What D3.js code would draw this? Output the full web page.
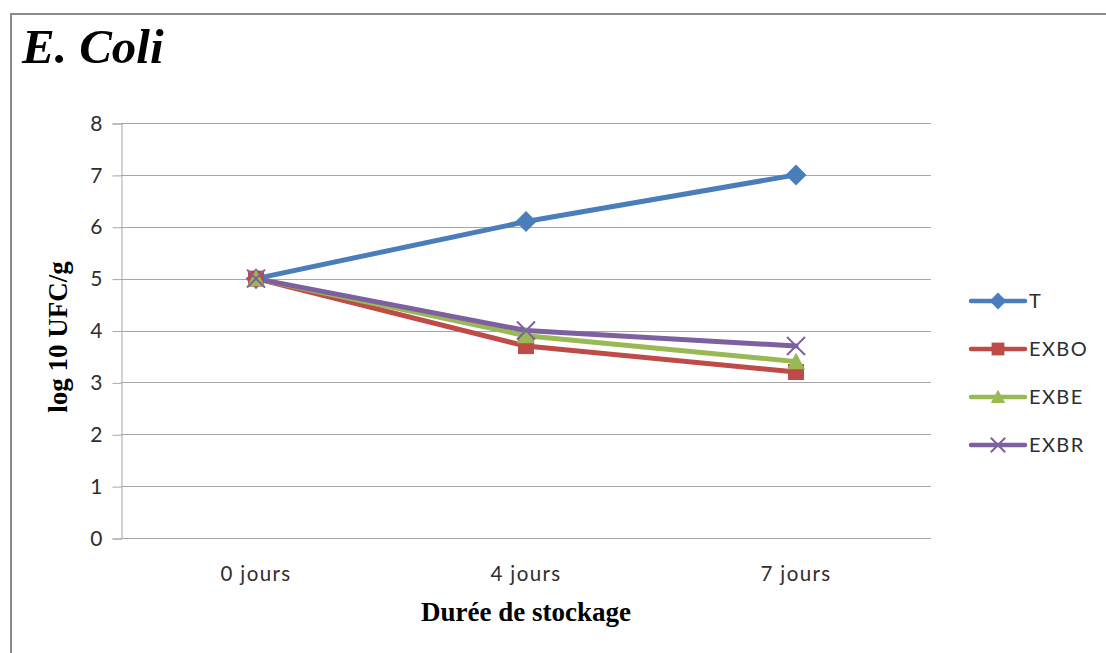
<!DOCTYPE html>
<html>
<head>
<meta charset="utf-8">
<script src="https://cdn.jsdelivr.net/npm/d3@7"></script>
<style>
  html, body { margin: 0; padding: 0; background: #fff; }
  svg { display: block; }
</style>
</head>
<body>
<svg id="chart" width="1106" height="653"></svg>
<script>
// Storage duration categories
const categories = ["0 jours", "4 jours", "7 jours"];

// log10 CFU/g per treatment
const seriesNames = ["T", "EXBO", "EXBE", "EXBR"];
const valuesT    = [5.0, 6.1, 7.0];
const valuesEXBO = [5.0, 3.7, 3.2];
const valuesEXBE = [5.0, 3.9, 3.4];
const valuesEXBR = [5.0, 4.0, 3.7];

const yTicks = [0, 1, 2, 3, 4, 5, 6, 7, 8];

const colors = {
  T: "#4a7ebb",
  EXBO: "#be4b48",
  EXBE: "#98b954",
  EXBR: "#7d60a0"
};
const markers = { T: "diamond", EXBO: "square", EXBE: "triangle", EXBR: "cross" };

const series = [
  { name: "T", values: valuesT },
  { name: "EXBO", values: valuesEXBO },
  { name: "EXBE", values: valuesEXBE },
  { name: "EXBR", values: valuesEXBR }
];

const labelFont = "Lato, 'Open Sans', sans-serif";
const serifFont = "'Liberation Serif', 'Times New Roman', serif";

const svg = d3.select("#chart");
const W = 1106, H = 653;

// Frame around the chart
svg.append("path")
  .attr("d", `M11,${H} L11,14 L${W},14`)
  .attr("fill", "none")
  .attr("stroke", "#8a8a8a")
  .attr("stroke-width", 2);

const plot = { left: 121, right: 931, top: 123, bottom: 538 };

const x = d3.scaleBand().domain(categories).range([plot.left, plot.right]).padding(0);
const y = d3.scaleLinear().domain([0, 8]).range([plot.bottom, plot.top]);
const cx = c => x(c) + x.bandwidth() / 2;

// Horizontal gridlines
svg.append("g")
  .selectAll("line")
  .data(yTicks.filter(d => d > 0))
  .join("line")
  .attr("x1", plot.left).attr("x2", plot.right)
  .attr("y1", d => Math.round(y(d)) + 0.5).attr("y2", d => Math.round(y(d)) + 0.5)
  .attr("stroke", "#a6a6a6").attr("stroke-width", 1);

// Y axis
const yAxis = d3.axisLeft(y).tickValues(yTicks).tickSize(9).tickPadding(10).tickFormat(d3.format("d"));
const gy = svg.append("g").attr("transform", `translate(${plot.left + 0.5},0.5)`).call(yAxis);
gy.select(".domain").attr("stroke", "#a6a6a6");
gy.selectAll(".tick line").attr("stroke", "#a6a6a6");
gy.selectAll(".tick text")
  .attr("font-family", labelFont)
  .attr("font-size", 21)
  .attr("fill", "#2e2e2e");

// X axis
const xAxis = d3.axisBottom(x).tickSize(0).tickPadding(28);
const gx = svg.append("g").attr("transform", `translate(0,${plot.bottom + 0.5})`).call(xAxis);
gx.select(".domain").attr("stroke", "#a6a6a6").attr("d", `M${plot.left},0H${plot.right}`);
gx.selectAll(".tick text")
  .attr("font-family", labelFont)
  .attr("font-size", 20.5)
  .attr("letter-spacing", 1.4)
  .attr("fill", "#2e2e2e");

// Lines
const line = d3.line().x((d, i) => cx(categories[i])).y(d => y(d));
svg.append("g")
  .selectAll("path")
  .data(series)
  .join("path")
  .attr("d", s => line(s.values))
  .attr("fill", "none")
  .attr("stroke", s => colors[s.name])
  .attr("stroke-width", 5)
  .attr("stroke-linejoin", "round")
  .attr("stroke-linecap", "round");

// Marker drawing
function drawMarker(g, type, color, px, py, scale) {
  const s = scale || 1;
  if (type === "diamond") {
    const r = 10.5 * s;
    g.append("path")
      .attr("d", `M${px},${py - r} L${px + r},${py} L${px},${py + r} L${px - r},${py} Z`)
      .attr("fill", color);
  } else if (type === "square") {
    const h = 8 * s;
    g.append("rect")
      .attr("x", px - h).attr("y", py - h)
      .attr("width", 2 * h).attr("height", 2 * h)
      .attr("fill", color);
  } else if (type === "triangle") {
    const h = 9 * s;
    g.append("path")
      .attr("d", `M${px},${py - h} L${px + h},${py + h * 0.85} L${px - h},${py + h * 0.85} Z`)
      .attr("fill", color);
  } else if (type === "cross") {
    const h = 9 * s;
    g.append("path")
      .attr("d", `M${px - h},${py - h} L${px + h},${py + h} M${px - h},${py + h} L${px + h},${py - h}`)
      .attr("stroke", color).attr("stroke-width", 2).attr("fill", "none");
  }
}

const mk = svg.append("g");
series.forEach(s => {
  s.values.forEach((v, i) => {
    drawMarker(mk, markers[s.name], colors[s.name], cx(categories[i]), y(v), 1);
  });
});

// Legend
const legend = svg.append("g");
const legendY = [301, 349, 397, 445];
series.forEach((s, i) => {
  const ly = legendY[i];
  legend.append("line")
    .attr("x1", 971).attr("x2", 1025)
    .attr("y1", ly).attr("y2", ly)
    .attr("stroke", colors[s.name]).attr("stroke-width", 4.5)
    .attr("stroke-linecap", "round");
  drawMarker(legend, markers[s.name], colors[s.name], 998, ly, 0.8);
  legend.append("text")
    .attr("x", 1029).attr("y", ly)
    .attr("dy", "0.36em")
    .attr("font-family", labelFont)
    .attr("font-size", 20)
    .attr("letter-spacing", 1.4)
    .attr("fill", "#2e2e2e")
    .text(s.name);
});

// Title
svg.append("text")
  .attr("x", 22).attr("y", 63)
  .attr("font-family", serifFont)
  .attr("font-weight", "bold")
  .attr("font-style", "italic")
  .attr("font-size", 49)
  .attr("fill", "#000")
  .text("E. Coli");

// Axis titles
svg.append("text")
  .attr("x", 526).attr("y", 621)
  .attr("text-anchor", "middle")
  .attr("font-family", serifFont)
  .attr("font-weight", "bold")
  .attr("font-size", 27)
  .attr("fill", "#000")
  .text("Durée de stockage");

svg.append("text")
  .attr("transform", "translate(67,337) rotate(-90)")
  .attr("text-anchor", "middle")
  .attr("font-family", serifFont)
  .attr("font-weight", "bold")
  .attr("font-size", 27)
  .attr("fill", "#000")
  .text("log 10 UFC/g");
</script>
</body>
</html>
